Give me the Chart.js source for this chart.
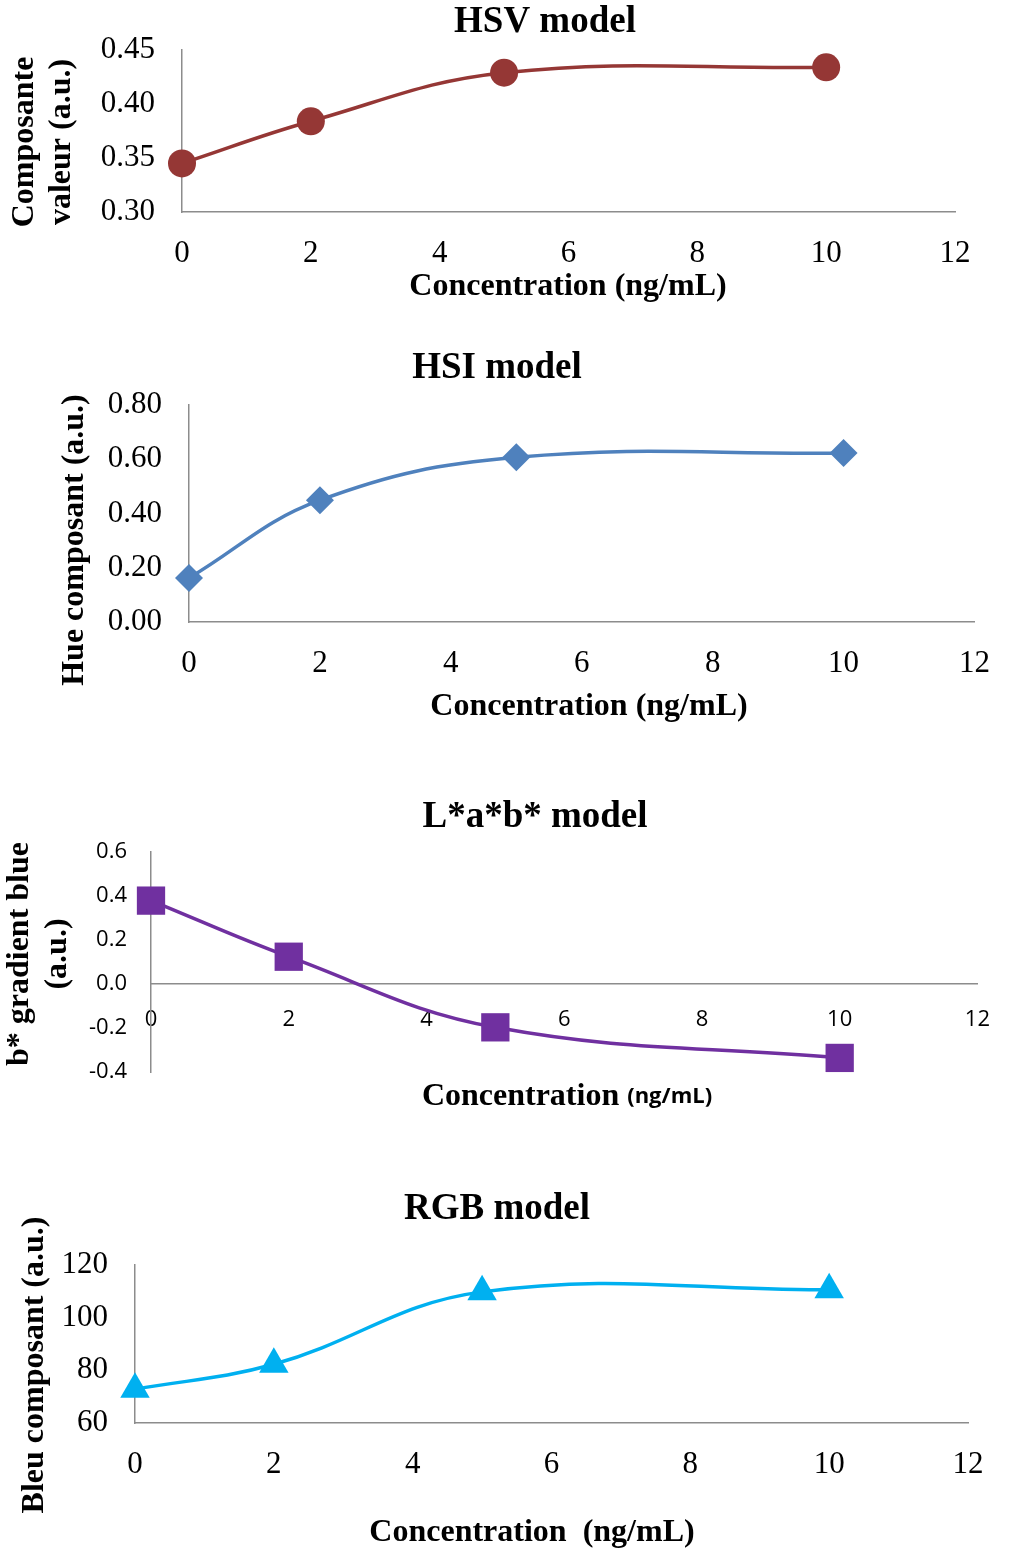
<!DOCTYPE html>
<html>
<head>
<meta charset="utf-8">
<script src="https://cdn.jsdelivr.net/npm/chart.js@4.4.1/dist/chart.umd.min.js"></script>
<style>
  html, body { margin: 0; padding: 0; background: #fff; overflow: hidden; }
  canvas { position: absolute; left: 0; top: 0; }
</style>
</head>
<body>
<canvas id="hsvChart" width="1013" height="1553"></canvas>
<canvas id="hsiChart" width="1013" height="1553"></canvas>
<canvas id="labChart" width="1013" height="1553"></canvas>
<canvas id="rgbChart" width="1013" height="1553"></canvas>
<script>
// data
const concentration = [0, 2, 5, 10];
const hsvValue = [0.345, 0.384, 0.429, 0.434];
const hsiHue = [0.162, 0.449, 0.607, 0.623];
const labB = [0.379, 0.124, -0.197, -0.336];
const rgbBlue = [72.8, 82.3, 109.8, 110.6];

const xTicks = [0, 2, 4, 6, 8, 10, 12];
const hsvTicks = [0.30, 0.35, 0.40, 0.45];
const hsiTicks = [0.00, 0.20, 0.40, 0.60, 0.80];
const labTicks = [-0.4, -0.2, 0.0, 0.2, 0.4, 0.6];
const rgbTicks = [60, 80, 100, 120];

const W = 1013, H = 1553;
const axisGrey = '#8c8c8c';
const serif = '"Liberation Serif", "Times New Roman", serif';
const titleFont = 'bold 37px ' + serif;
const axisFont = 'bold 32px ' + serif;

// draws titles / axis titles at fixed spots
function textPlugin(items) {
  return {
    id: 'texts',
    afterDraw(chart) {
      const ctx = chart.ctx;
      items.forEach(item => {
        ctx.save();
        ctx.translate(item.x, item.y);
        if (item.rotate) ctx.rotate(item.rotate * Math.PI / 180);
        ctx.textBaseline = 'middle';
        ctx.textAlign = 'left';
        ctx.fillStyle = '#000';
        const parts = item.parts || [{text: item.text, font: item.font || axisFont}];
        let total = 0;
        parts.forEach(p => { ctx.font = p.font; total += ctx.measureText(p.text).width; });
        let x = -total / 2;
        parts.forEach(p => {
          ctx.font = p.font;
          ctx.fillText(p.text, x, 0);
          x += ctx.measureText(p.text).width;
        });
        ctx.restore();
      });
    }
  };
}

function makeChart(id, cfg) {
  const box = cfg.box;
  const points = concentration.map((x, i) => ({x: x, y: cfg.values[i]}));
  new Chart(document.getElementById(id), {
    type: 'line',
    data: {
      datasets: [{
        data: points,
        borderColor: cfg.color,
        backgroundColor: cfg.color,
        borderWidth: 3.5,
        tension: 0.4,
        pointStyle: cfg.marker,
        pointRadius: cfg.markerSize,
        pointHoverRadius: cfg.markerSize,
        pointBorderWidth: 0,
        clip: false
      }]
    },
    options: {
      responsive: false,
      animation: false,
      events: [],
      layout: {
        autoPadding: false,
        padding: {left: 0, top: box.top, right: W - box.right, bottom: cfg.xAtZero ? H - box.bottom : 0}
      },
      plugins: {legend: {display: false}, tooltip: {enabled: false}},
      scales: {
        x: {
          type: 'linear',
          min: 0,
          max: 12,
          position: cfg.xAtZero ? {y: 0} : 'bottom',
          grid: {display: false, drawTicks: false},
          border: {display: true, color: axisGrey, width: 1.5},
          afterBuildTicks: s => { s.ticks = xTicks.map(v => ({value: v})); },
          afterFit: s => { if (!cfg.xAtZero) s.height = H - box.bottom; },
          ticks: {padding: cfg.xPad, color: '#000', font: cfg.tickFont, maxRotation: 0, autoSkip: false}
        },
        y: {
          type: 'linear',
          min: cfg.yTicks[0],
          max: cfg.yTicks[cfg.yTicks.length - 1],
          grid: {display: false, drawTicks: false},
          border: {display: true, color: axisGrey, width: 1.5},
          afterBuildTicks: s => { s.ticks = cfg.yTicks.map(v => ({value: v})); },
          afterFit: s => { s.width = box.left; },
          ticks: {
            padding: cfg.yPad,
            color: '#000',
            font: cfg.tickFont,
            callback: v => Number(v).toFixed(cfg.decimals)
          }
        }
      }
    },
    plugins: [textPlugin(cfg.texts)]
  });
}

const serifTicks = {family: serif, size: 31};

makeChart('hsvChart', {
  values: hsvValue, yTicks: hsvTicks, decimals: 2,
  color: '#953735', marker: 'circle', markerSize: 14,
  box: {left: 182, right: 955, top: 50, bottom: 212},
  tickFont: serifTicks, xPad: 23, yPad: 27,
  texts: [
    {text: 'HSV model', x: 545, y: 22, font: titleFont},
    {text: 'Composante', x: 25, y: 142, rotate: -90},
    {text: 'valeur (a.u.)', x: 62, y: 142, rotate: -90},
    {text: 'Concentration (ng/mL)', x: 568, y: 287}
  ]
});

makeChart('hsiChart', {
  values: hsiHue, yTicks: hsiTicks, decimals: 2,
  color: '#4F81BD', marker: 'rectRot', markerSize: 14,
  box: {left: 189, right: 989, top: 405, bottom: 622},
  tickFont: serifTicks, xPad: 23, yPad: 27,
  texts: [
    {text: 'HSI model', x: 497, y: 368, font: titleFont},
    {text: 'Hue composant (a.u.)', x: 75, y: 540, rotate: -90},
    {text: 'Concentration (ng/mL)', x: 589, y: 707}
  ]
});

makeChart('labChart', {
  values: labB, yTicks: labTicks, decimals: 1,
  color: '#7030A0', marker: 'rect', markerSize: 20, xAtZero: true,
  box: {left: 151, right: 983, top: 852, bottom: 1072},
  tickFont: {family: '"Open Sans", "Noto Sans", sans-serif', size: 22}, xPad: 23, yPad: 24,
  texts: [
    {text: 'L*a*b* model', x: 535, y: 817, font: titleFont},
    {text: 'b* gradient blue', x: 20, y: 954, rotate: -90},
    {text: '(a.u.)', x: 58, y: 954, rotate: -90},
    {x: 567, y: 1097, parts: [
      {text: 'Concentration ', font: axisFont},
      {text: '(ng/mL)', font: 'bold 22px "Open Sans", "Noto Sans", sans-serif'}
    ]}
  ]
});

makeChart('rgbChart', {
  values: rgbBlue, yTicks: rgbTicks, decimals: 0,
  color: '#00B0F0', marker: 'triangle', markerSize: 17,
  box: {left: 135, right: 968, top: 1265, bottom: 1423},
  tickFont: serifTicks, xPad: 23, yPad: 27,
  texts: [
    {text: 'RGB model', x: 497, y: 1209, font: titleFont},
    {text: 'Bleu composant (a.u.)', x: 35, y: 1365, rotate: -90},
    {text: 'Concentration  (ng/mL)', x: 532, y: 1533}
  ]
});
</script>
</body>
</html>
